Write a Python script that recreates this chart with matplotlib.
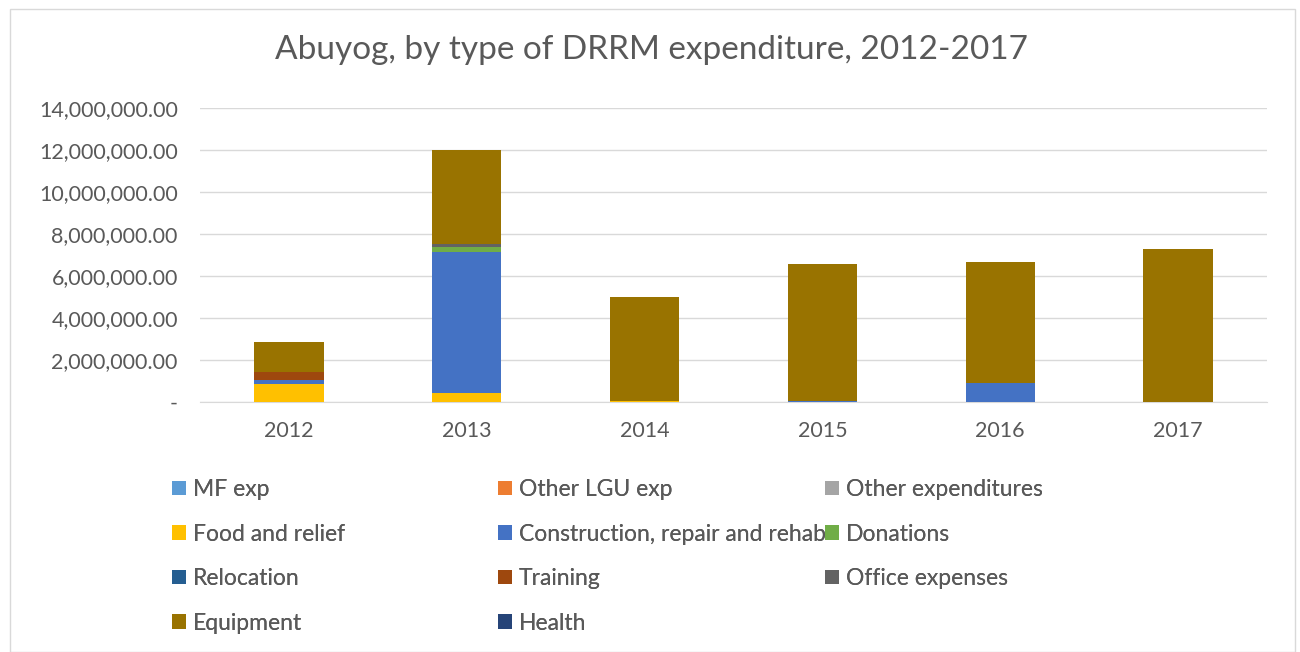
import matplotlib.pyplot as plt
import numpy as np

years = ["2012", "2013", "2014", "2015", "2016", "2017"]
series_names = ["MF exp", "Other LGU exp", "Other expenditures", "Food and relief",
                "Construction, repair and rehab", "Donations", "Relocation", "Training",
                "Office expenses", "Equipment", "Health"]
colors = ["#5B9BD5", "#ED7D31", "#A5A5A5", "#FFC000", "#4472C4", "#70AD47",
          "#255E91", "#9E480E", "#636363", "#997300", "#264478"]

mf_exp = [0, 0, 0, 0, 0, 0]
other_lgu = [0, 0, 0, 0, 0, 0]
other_exp = [0, 0, 0, 0, 0, 0]
food_relief = [880000, 410000, 70000, 0, 0, 0]
construction = [160000, 6740000, 0, 70000, 900000, 20000]
donations = [0, 210000, 0, 0, 0, 0]
relocation = [0, 0, 0, 0, 0, 0]
training = [400000, 0, 0, 0, 0, 0]
office = [0, 170000, 0, 0, 0, 0]
equipment = [1440000, 4470000, 4930000, 6500000, 5770000, 7270000]
health = [0, 0, 0, 0, 0, 0]

data = [mf_exp, other_lgu, other_exp, food_relief, construction, donations,
        relocation, training, office, equipment, health]

text_color = "#595959"
plt.rcParams['font.family'] = ['Lato', 'DejaVu Sans']

W, H = 1300, 652
fig = plt.figure(figsize=(13, 6.52), dpi=100)
ax = fig.add_axes([200/W, 1-402/H, 1067/W, 294/H])

x = np.arange(len(years))
bottom = np.zeros(len(years))
handles = []
for name, vals, c in zip(series_names, data, colors):
    v = np.array(vals, dtype=float)
    b = ax.bar(x, v, 0.39, bottom=bottom, color=c, label=name, zorder=3)
    handles.append(b)
    bottom += v

ax.set_xlim(-0.5, len(years) - 0.5)
ax.set_ylim(0, 14000000)
ax.set_yticks(np.arange(0, 14000001, 2000000))
ax.set_yticklabels(["-"] + [f"{v:,.2f}" for v in np.arange(2000000, 14000001, 2000000)])
ax.set_xticks(x)
ax.set_xticklabels(years)
ax.grid(axis='y', color="#D9D9D9", linewidth=1, zorder=0)
for s in ["top", "right", "left"]:
    ax.spines[s].set_visible(False)
ax.spines["bottom"].set_color("#D9D9D9")
ax.tick_params(axis='both', length=0, labelsize=15.5, colors=text_color)
ax.tick_params(axis='y', pad=16)
ax.tick_params(axis='x', pad=14)

fig.text(652/W, 1-50/H, "Abuyog, by type of DRRM expenditure, 2012-2017",
         ha='center', va='center', fontsize=24, color=text_color)

# three legend columns laid out row-wise as in the reference
columns = [[0, 3, 6, 9], [1, 4, 7, 10], [2, 5, 8]]
col_x = [172, 498, 825]
fs = 16.5
for idxs, cx in zip(columns, col_x):
    leg = fig.legend([handles[i] for i in idxs], [series_names[i] for i in idxs],
                     loc='upper left', bbox_to_anchor=(cx/W, 1-479/H),
                     frameon=False, fontsize=fs, handlelength=0.61, handleheight=0.61,
                     handletextpad=0.3, labelspacing=1.03, borderpad=0,
                     borderaxespad=0, labelcolor=text_color)
    fig.add_artist(leg)

border = plt.Rectangle((10/W, 0), 1285/W, 1-9/H, transform=fig.transFigure,
                       fill=False, edgecolor="#D9D9D9", linewidth=1)
fig.add_artist(border)

fig.savefig("out.png", dpi=100)
